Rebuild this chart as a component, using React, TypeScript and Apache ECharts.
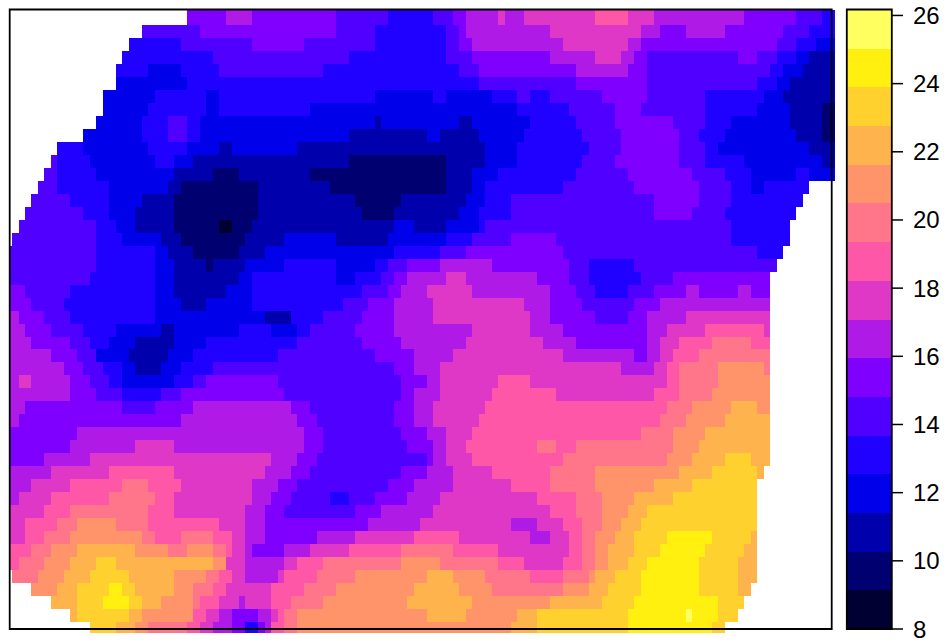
import React, { useEffect, useRef } from "react";
import * as echarts from "echarts";

// bpy.colors(16), darkest (a) to lightest (p)
const bandColors = ["#000033","#000070","#0000AD","#0000EB","#2000FF","#5000FF","#8000FF","#AF1AE6","#DF38C7","#FF57A8","#FF758A","#FF946B","#FFB34D","#FFD12E","#FFF00F","#FFFF60"];
const bandLetters = "abcdefghijklmnop";
const valueMin = 8;
const valueMax = 26.16;
const tickLabels = [8,10,12,14,16,18,20,22,24,26];

// One string per map row, top to bottom. Each token: band letter + map x where that band ends ("_" = no data).
const rowRuns = [
"_190 g228 h254 g339 f391 e430 f450 g463 h495 i502 h521 i593 j626 i652 h743 g797 f822 e835",
"_143 f202 g339 f378 e443 f457 g463 h548 i639 h658 g685 h724 g782 f809 e835",
"_130 e182 f254 g306 f372 e443 f457 g469 h561 i626 h639 g777 f796 e815 d835",
"_123 e215 f352 e443 f469 g548 h593 i619 h632 g645 f737 g756 f777 e796 d809 c835",
"_117 e149 d182 e221 f326 e456 f480 g573 h629 g645 f769 e782 d802 c835",
"_113 d190 e480 f575 g645 f756 e775 d790 c835",
"_104 d156 e208 d220 e372 d430 e443 d489 e515 f528 e553 f600 g645 f703 e763 d782 c835",
"_100 d149 e208 d222 e313 d515 e567 f613 g639 f704 e757 d788 c825 b835",
"_97 d143 e169 f189 e202 d372 c384 d456 c469 d528 e574 f613 g672 f704 e730 d789 c825 b835",
"_84 d143 e169 f189 e202 d352 c424 d437 c476 d521 e580 f619 g678 f698 e724 d796 c822 b835",
"_58 e84 d149 e189 d217 c233 d300 c482 d515 e587 f619 g678 f704 e717 d809 c835",
"_52 f58 e91 d156 e176 d195 c352 b443 c482 d515 e580 f613 g678 f704 e743 d822 c835",
"_45 f58 e97 d176 c215 b241 c313 b443 c469 d495 e574 f626 g691 f724 e750 d796 e809 d835",
"_39 f58 e110 d169 c182 b260 c332 b443 c469 d488 e561 f632 g698 f730 e750 d763 e809",
"_32 f71 e110 d143 c176 b260 c358 b403 c463 d482 e513 f652 g698 f730 e800",
"_25 f84 e110 d136 c176 b260 c365 b392 c456 d476 e508 f652 g691 f724 e796",
"_19 f97 e117 d136 c176 b222 a233 b253 c397 d417 c443 d476 e482 f730 e789",
"_12 f97 e123 d163 c182 b248 c287 d339 c385 d443 e470 f513 g558 f730 e789",
"f97 e157 d169 c195 b241 c265 d397 e437 f468 g562 f756 e783",
"f97 e157 d176 c208 b215 c247 d287 e339 d378 e391 f410 g437 h489 g567 f587 e632 f776",
"f91 e157 d176 c242 d253 e339 d358 e384 f397 g410 h443 i463 h540 g567 f587 e638 f672 g770",
"g25 f70 e157 d176 c228 d253 e365 f391 g404 h424 i469 h548 g574 f593 e626 f652 g685 h698 g737 h750 g770",
"g32 f65 e157 d182 c208 d253 e345 f371 g397 h430 i521 h548 g580 f632 g658 h770",
"h19 g45 f72 e157 d267 c293 e326 f365 g397 h430 i528 h553 g593 f626 g645 h685 i770",
"h25 g52 f84 e117 d163 c176 d242 e273 d300 e313 f358 g397 h469 i528 h560 g645 h665 i704 j763 i770",
"h32 g72 f91 e110 d136 c176 d208 e300 f365 g404 h463 i542 h573 g645 h658 i678 j710 k750 j770",
"h52 g78 f97 d130 c169 d195 e280 f378 g417 h450 i560 h632 g645 h658 i672 j698 k770",
"h65 g84 f104 e123 d136 c163 d182 e215 f397 g417 h437 i619 h652 i665 j678 k717 l763 k770",
"h19 i32 h71 g91 f110 e123 d175 e195 f205 g280 f404 g424 h437 i495 j528 i665 j678 k717 l770",
"h71 g97 f123 e163 f182 g287 f404 g417 h437 i489 j554 i652 j678 k713 l770",
"h25 g123 f157 g195 h293 g307 f397 g417 h430 i482 j665 k691 l730 m757 l770",
"h19 g182 h300 g319 f397 g417 h430 i476 j658 k685 l724 m770",
"g78 h306 g326 f404 g424 h443 i475 j639 k672 l704 m770",
"g71 h136 i176 h306 g326 f410 g430 h443 i463 j534 k554 j574 k672 l698 m770",
"g45 h91 i273 h300 g319 f424 g430 h443 i469 j561 k665 l691 m724 n750 m770",
"h52 i110 j176 i267 h290 g313 f404 g424 h450 i489 j548 k593 l678 m711 n757 m763",
"h32 i71 j123 k149 j182 i254 h280 g300 f391 g417 h450 i512 j553 k593 l652 m691 n757",
"h19 i52 j110 k156 j176 i254 h273 g293 f332 e352 f377 g410 h437 i534 j574 k600 l632 m672 n757",
"i45 j71 k149 j176 i247 h267 g287 f358 g384 h430 i547 j574 k600 l626 m645 n757",
"i25 j58 k78 l117 k149 j222 i247 h267 g367 h423 i508 h535 i561 j580 k600 l619 m639 n757",
"i25 j45 k71 l143 k156 j182 k215 j234 i247 h267 g319 h358 i417 j456 i528 h548 i567 j580 k593 l613 m632 n665 o711 n750 m757",
"j32 k52 l78 m136 l169 k189 l215 k228 j234 i247 h254 g287 h313 i352 j404 k450 j495 i567 j580 k593 l606 m632 n658 o704 n743 m757",
"j19 k45 l71 m97 n117 m215 l228 i247 h287 i300 j326 k404 l437 k495 j521 i561 j580 k593 l606 m626 n645 o698 n737 m757",
"_12 k39 l65 m91 n130 m176 l208 k221 j234 i247 h280 i287 j319 k358 l424 m450 l482 k528 j565 k587 l593 m613 n639 o698 n737 m757",
"_32 l58 m78 n110 o123 n136 m176 l195 k215 j228 i273 j306 k339 l417 m456 l489 k561 l587 m606 n639 o698 n737 m750",
"_52 m78 n104 o130 n143 m163 l195 k202 j222 i241 h247 i273 j293 k326 l410 m469 l547 m600 n632 o717 n743",
"_71 m78 n130 m143 l195 j208 i221 h234 g260 h273 i280 j287 k300 l424 m463 l515 m534 n626 o685 p691 o717 n737",
"_91 n117 m136 l149 k189 j202 i215 h233 g247 e260 g267 h273 j287 k300 l508 m534 n626 o711 n724",
];

const colOrigin = 5.56;
const colPitch = 6.48;
const rowOrigin = 12.5;
const rowPitch = 12.96;
const xMin = (10 - colOrigin) / colPitch;
const xMax = (832 - colOrigin) / colPitch;
const yMin = (10 - rowOrigin) / rowPitch;
const yMax = (629 - rowOrigin) / rowPitch;
const yImageEnd = (633 - rowOrigin) / rowPitch;

function parseRuns() {
  const out: number[][] = [];
  rowRuns.forEach((row, j) => {
    let start = xMin;
    row.split(" ").forEach((tok) => {
      const band = bandLetters.indexOf(tok[0]);
      const end = Math.round((Number(tok.slice(1)) - colOrigin) / colPitch);
      if (band >= 0) out.push([start, end, j === 0 ? yMin : j, Math.min(j + 1, yImageEnd), band]);
      start = end;
    });
  });
  return out;
}

function rectItem(fill: string, a: number[], b: number[]) {
  const x = Math.round(a[0]), y = Math.round(a[1]);
  return {
    type: "rect",
    shape: { x, y, width: Math.round(b[0]) - x, height: Math.round(b[1]) - y },
    style: { fill, stroke: null },
  };
}

export default function App() {
  const ref = useRef<HTMLDivElement>(null);
  useEffect(() => {
    document.body.style.margin = "0";
    const chart = echarts.init(ref.current!, null, { renderer: "svg" });
    const bandSize = (valueMax - valueMin) / bandColors.length;
    chart.setOption({
      animation: false,
      backgroundColor: "#ffffff",
      grid: [
        { left: 10, top: 10, width: 822, height: 619, containLabel: false },
        { left: 847, top: 10, width: 45, height: 619, containLabel: false },
      ],
      xAxis: [
        { type: "value", gridIndex: 0, min: xMin, max: xMax, show: false },
        { type: "value", gridIndex: 1, min: 0, max: 1, show: false },
      ],
      yAxis: [
        { type: "value", gridIndex: 0, min: yMin, max: yMax, inverse: true, show: false },
        {
          type: "value", gridIndex: 1, min: valueMin, max: valueMax, position: "right",
          splitLine: { show: false },
          axisLine: { show: false },
          axisTick: { show: false },
          axisLabel: {
            show: true, customValues: tickLabels, margin: 21, color: "#000",
            fontFamily: "'Liberation Sans', Arial, sans-serif", fontSize: 24,
          },
        },
      ],
      series: [
        {
          type: "custom", xAxisIndex: 0, yAxisIndex: 0, clip: false, silent: true,
          data: parseRuns(),
          renderItem: (_p: any, api: any) =>
            rectItem(
              bandColors[api.value(4)],
              api.coord([api.value(0), api.value(2)]),
              api.coord([api.value(1), api.value(3)]),
            ),
        },
        {
          type: "custom", xAxisIndex: 1, yAxisIndex: 1, silent: true,
          data: bandColors.map((_, i) => [0, 1, valueMin + i * bandSize, valueMin + (i + 1) * bandSize, i]),
          renderItem: (_p: any, api: any) =>
            rectItem(
              bandColors[api.value(4)],
              api.coord([api.value(0), api.value(3)]),
              api.coord([api.value(1), api.value(2)]),
            ),
        },
        {
          type: "custom", xAxisIndex: 1, yAxisIndex: 1, clip: false, silent: true,
          data: tickLabels.map((v) => [1, v]),
          renderItem: (_p: any, api: any) => {
            const p = api.coord([api.value(0), api.value(1)]);
            return {
              type: "line",
              shape: { x1: p[0], y1: p[1], x2: p[0] + 11, y2: p[1] },
              style: { stroke: "#000", lineWidth: 1.5 },
            };
          },
        },
      ],
      graphic: [
        { type: "rect", z: 100, silent: true, shape: { x: 9.7, y: 9.5, width: 822, height: 619.5 }, style: { fill: "none", stroke: "#000", lineWidth: 1.8 } },
        { type: "rect", z: 100, silent: true, shape: { x: 846.8, y: 9.5, width: 45, height: 619.5 }, style: { fill: "none", stroke: "#000", lineWidth: 1.8 } },
      ],
    });
    return () => chart.dispose();
  }, []);
  return <div ref={ref} style={{ position: "fixed", left: 0, top: 0, width: 947, height: 642 }} />;
}
